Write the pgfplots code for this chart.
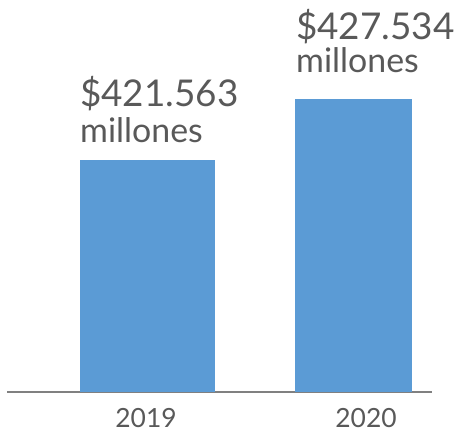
\documentclass[border=0pt]{standalone}
\usepackage{pgfplots}
\pgfplotsset{compat=1.18}
\usepackage{fontspec}
\setmainfont{Lato}
\definecolor{barblue}{HTML}{5B9BD5}
\definecolor{txtgray}{HTML}{595959}
\definecolor{axgray}{HTML}{808080}
\begin{document}
\begin{tikzpicture}
\useasboundingbox (0,0) rectangle (456bp,438bp);
\begin{axis}[
  at={(7bp,46bp)}, anchor=south west,
  scale only axis,
  width=425bp, height=392bp,
  xmin=0, xmax=425,
  ymin=398.86, ymax=437.22,
  axis y line=none,
  axis x line*=bottom,
  axis line style={axgray, line width=1.5bp, -},
  xtick={139,359},
  xticklabels={2019,2020},
  major tick length=0pt,
  xticklabel style={font=\fontsize{26.5}{28}\selectfont, text=txtgray, yshift=-13bp},
  ybar, bar shift=0pt, clip=false,
]
\addplot[fill=barblue, draw=none, bar width=135bp] coordinates {(140.5,421.563)};
\addplot[fill=barblue, draw=none, bar width=117bp] coordinates {(346.5,427.534)};
\node[anchor=base west, inner sep=0, text=txtgray, font=\fontsize{34}{40}\selectfont] at (axis cs:73,421.563) [yshift=17bp] {millones};
\node[anchor=base west, inner sep=0, text=txtgray, font=\fontsize{37}{40}\selectfont] at (axis cs:73,421.563) [yshift=53bp] {\$421.563};
\node[anchor=base west, inner sep=0, text=txtgray, font=\fontsize{34}{40}\selectfont] at (axis cs:289,427.534) [yshift=26bp] {millones};
\node[anchor=base west, inner sep=0, text=txtgray, font=\fontsize{37}{40}\selectfont] at (axis cs:289,427.534) [yshift=59bp] {\$427.534};
\end{axis}
\end{tikzpicture}
\end{document}
